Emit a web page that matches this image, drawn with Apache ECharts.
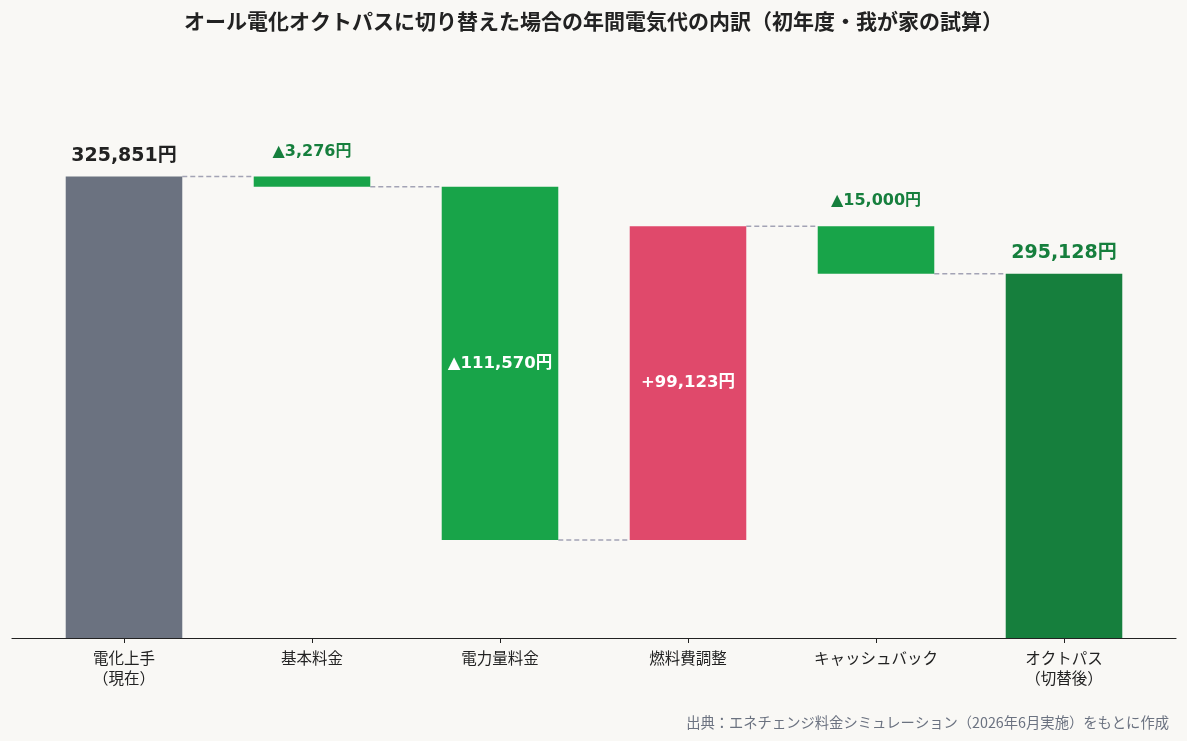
<!DOCTYPE html>
<html><head><meta charset="utf-8">
<script src="https://cdn.jsdelivr.net/npm/echarts@6/dist/echarts.min.js"></script>
<style>html,body{margin:0;padding:0;background:#f9f8f5;}#c{width:1187px;height:741px;}</style>
</head><body><div id="c"></div>
<script>
const categories = ['電化上手\n（現在）', '基本料金', '電力量料金', '燃料費調整', 'キャッシュバック', 'オクトパス\n（切替後）'];
const startValue = 325851;
const deltas = [-3276, -111570, 99123, -15000];
const endValue = 295128;
const labelTexts = ['325,851円', '▲3,276円', '▲111,570円', '+99,123円', '▲15,000円', '295,128円'];
const barColors = ['#6b7280', '#18a449', '#18a449', '#e0496b', '#18a449', '#167f3d'];

// waterfall geometry from the values
const bases = [0];
const heights = [startValue];
const levels = [startValue];
let run = startValue;
deltas.forEach(d => {
  const next = run + d;
  bases.push(Math.min(run, next));
  heights.push(Math.abs(d));
  run = next;
  levels.push(run);
});
bases.push(0);
heights.push(endValue);

const numFont = 'DejaVu Sans, Noto Sans CJK JP';
const labelCfg = [
  {position: 'top', distance: 11, color: '#222', fontSize: 19},
  {position: 'top', distance: 17, color: '#167f3d', fontSize: 16},
  {position: 'inside', color: '#fff', fontSize: 16.5},
  {position: 'inside', color: '#fff', fontSize: 16.5},
  {position: 'top', distance: 17, color: '#167f3d', fontSize: 16},
  {position: 'top', distance: 11, color: '#167f3d', fontSize: 19}
];

const chart = echarts.init(document.getElementById('c'));
chart.setOption({
  backgroundColor: '#f9f8f5',
  animation: false,
  title: {
    text: 'オール電化オクトパスに切り替えた場合の年間電気代の内訳（初年度・我が家の試算）',
    left: 'center', top: 6,
    textStyle: {fontFamily: 'Noto Sans CJK JP', fontWeight: 'bold', fontSize: 21, color: '#222'}
  },
  graphic: [{
    type: 'text', right: 18, bottom: 11,
    style: {text: '出典：エネチェンジ料金シミュレーション（2026年6月実施）をもとに作成', fill: '#6b7280', fontSize: 14.3, fontFamily: 'Noto Sans CJK JP'}
  }],
  grid: [
    {left: 30, right: 29, top: 100, bottom: 103},
    {left: 12, right: 11, top: 100, bottom: 103}
  ],
  xAxis: [{
    type: 'category', data: categories, gridIndex: 0,
    axisLine: {show: false},
    axisTick: {show: true, alignWithLabel: true, length: 5, lineStyle: {color: '#222'}},
    axisLabel: {color: '#222', fontSize: 15.5, margin: 10, lineHeight: 20, fontFamily: 'Noto Sans CJK JP'}
  }, {
    type: 'value', gridIndex: 1, min: 0, max: 1,
    axisLine: {show: true, onZero: false, lineStyle: {color: '#222', width: 1.2}},
    axisTick: {show: false}, axisLabel: {show: false}, splitLine: {show: false}
  }],
  yAxis: [{
    type: 'value', gridIndex: 0, min: 180000, max: 350000,
    show: false, splitLine: {show: false}
  }, {
    type: 'value', gridIndex: 1, min: 0, max: 1, show: false, splitLine: {show: false}
  }],
  series: [{
    type: 'bar', stack: 'w', barWidth: '62%', silent: true,
    itemStyle: {color: 'transparent'},
    data: bases
  }, {
    type: 'bar', stack: 'w', barWidth: '62%',
    data: heights.map((h, i) => ({
      value: h,
      itemStyle: {color: barColors[i]},
      label: {
        show: true,
        position: labelCfg[i].position,
        distance: labelCfg[i].distance || 5,
        color: labelCfg[i].color,
        fontSize: labelCfg[i].fontSize,
        fontWeight: 'bold',
        fontFamily: numFont,
        formatter: () => labelTexts[i]
      }
    }))
  }, {
    type: 'custom',
    data: levels.map((v, i) => [i, v]),
    renderItem: function (params, api) {
      const i = api.value(0), v = api.value(1);
      const p0 = api.coord([i, v]);
      const p1 = api.coord([i + 1, v]);
      const bw = api.size([1, 0])[0] * 0.62;
      return {
        type: 'line',
        shape: {x1: p0[0] + bw / 2, y1: p0[1], x2: p1[0] - bw / 2, y2: p1[1]},
        style: {stroke: '#a3a3b5', lineWidth: 1.5, lineDash: [5, 3]}
      };
    },
    z: 1
  }]
});
</script></body></html>
